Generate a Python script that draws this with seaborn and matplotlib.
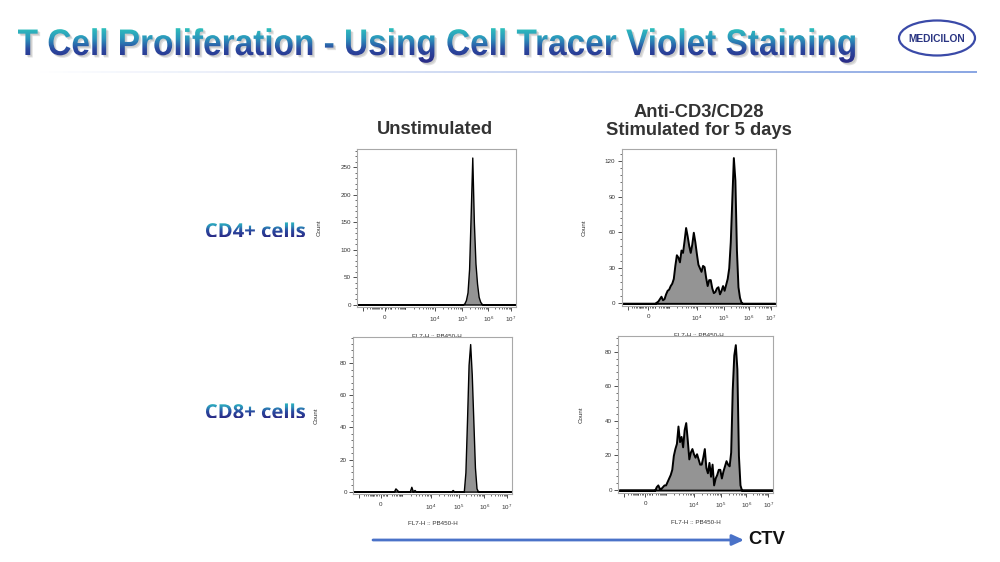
import numpy as np
import pandas as pd
import matplotlib
matplotlib.use("Agg")
import matplotlib.pyplot as plt
import seaborn as sns
from matplotlib.textpath import TextPath
from matplotlib.patches import PathPatch, Ellipse, FancyArrowPatch
from matplotlib.font_manager import FontProperties
from matplotlib.transforms import Affine2D
from matplotlib.colors import LinearSegmentedColormap
from matplotlib.collections import LineCollection
from matplotlib.ticker import AutoMinorLocator, FixedLocator

# ---------------- data (CTV channel histograms, 100 display channels) ----------------
title = "T Cell Proliferation - Using Cell Tracer Violet Staining"
col_titles = ["Unstimulated", "Anti-CD3/CD28\nStimulated for 5 days"]
row_labels = ["CD4+ cells", "CD8+ cells"]
x_label = "FL7-H :: PB450-H"
y_label = "Count"
x_tick_labels = ["", "0", "$10^{4}$", "$10^{5}$", "$10^{6}$", "$10^{7}$"]
axis_label = "CTV"
logo_text = "MEDICILON"

# counts per channel, listed from a start channel
cd4_unstim_start = 66
cd4_unstim_counts = [0, 2, 8, 22, 65, 165, 268, 150, 75, 38, 14, 5, 1, 0]

cd8_unstim_start = 25
cd8_unstim_counts = [0, 2, 1, 0, 0, 0, 0, 0, 0, 0, 0, 3, 0, 1, 0, 0, 0, 0, 0, 0,
                     0, 0, 0, 0, 0, 0, 0, 0, 0, 0, 0, 0, 0, 0, 0, 0, 0, 1, 0, 0,
                     0, 0, 0, 0, 0, 12, 44, 79, 92, 73, 44, 15, 2, 0]

cd4_stim_start = 21
cd4_stim_counts = [0, 1, 2, 4, 6, 3, 4, 8, 11, 12, 15, 17, 21, 32, 41, 39, 35, 45, 43,
                   53, 64, 57, 49, 43, 50, 60, 52, 42, 33, 30, 27, 32, 31, 22, 15, 20,
                   20, 13, 9, 10, 13, 14, 8, 11, 15, 11, 16, 21, 30, 52, 88, 123, 104,
                   45, 14, 5, 1, 0]

cd8_stim_start = 23
cd8_stim_counts = [0, 2, 3, 1, 1, 2, 3, 3, 5, 7, 9, 12, 20, 24, 27, 37, 28, 31, 25, 35,
                   39, 29, 18, 22, 24, 21, 19, 21, 18, 15, 15, 19, 24, 13, 10, 16, 8,
                   15, 3, 7, 9, 12, 12, 7, 11, 14, 17, 15, 14, 22, 58, 78, 84, 70, 20,
                   3, 0]

panel_data = {
    (0, 0): (cd4_unstim_start, cd4_unstim_counts),
    (0, 1): (cd4_stim_start, cd4_stim_counts),
    (1, 0): (cd8_unstim_start, cd8_unstim_counts),
    (1, 1): (cd8_stim_start, cd8_stim_counts),
}
y_ticks = {
    (0, 0): [0, 50, 100, 150, 200, 250],
    (0, 1): [0, 30, 60, 90, 120],
    (1, 0): [0, 20, 40, 60, 80],
    (1, 1): [0, 20, 40, 60, 80],
}

# ---------------- layout / style ----------------
W, H = 1000, 562
sns.set_style("ticks")
plt.rcParams["font.family"] = ["Liberation Sans", "DejaVu Sans"]
plt.rcParams["mathtext.fontset"] = "custom"
plt.rcParams["mathtext.rm"] = "Liberation Sans"
plt.rcParams["mathtext.it"] = "Liberation Sans"

fig = plt.figure(figsize=(10, 5.62), dpi=100)
fig.patch.set_facecolor("white")

ov = fig.add_axes([0, 0, 1, 1], zorder=0)
ov.set_xlim(0, W)
ov.set_ylim(H, 0)
ov.axis("off")

# axes boxes in pixels: left, top, right, bottom
boxes = {
    (0, 0): (357, 149.3, 516, 306.7),
    (0, 1): (621.7, 149.3, 775.7, 305.7),
    (1, 0): (353.3, 336.7, 512.3, 494),
    (1, 1): (618.3, 336, 773.3, 492.7),
}
ylims = {(0, 0): (-4, 283), (0, 1): (-2, 130), (1, 0): (-1.5, 96.6), (1, 1): (-1.5, 89)}

x_major = [3.8, 17.3, 48.9, 66.2, 82.5, 96.7]
x_minor = []
for k in range(2, 10):
    x_minor.append(3.8 + (13.0 - 3.8) * np.log10(k))
x_minor += [13.0, 14.0, 15.0, 16.0, 18.5, 19.5, 20.5, 21.5]
dec = [(21.5, 30.5), (30.5, 48.9), (48.9, 66.2), (66.2, 82.5), (82.5, 96.7)]
for a, b in dec:
    for k in range(1, 10):
        x_minor.append(a + (b - a) * np.log10(k))
x_minor.append(30.5)

fill_gray = "#949494"

for key, (l, t, r, b) in boxes.items():
    ax = fig.add_axes([l / W, 1 - b / H, (r - l) / W, (b - t) / H], zorder=2 + key[0])
    start, counts = panel_data[key]
    df = pd.DataFrame({"channel": start + np.arange(len(counts)) + 0.5,
                       "count": np.asarray(counts, dtype=float)})
    lw = 1.0 if key[1] == 0 else 1.4
    sns.histplot(data=df, x="channel", weights="count", binwidth=1, binrange=(0, 100),
                 element="poly", fill=True, color=fill_gray, edgecolor="black",
                 linewidth=lw, alpha=1, ax=ax)
    ax.set_xlim(0, 100)
    ax.set_ylim(*ylims[key])
    ax.set_facecolor("white")
    for s in ax.spines.values():
        s.set_color("#a8a8a8")
        s.set_linewidth(0.8)
    ax.set_xticks(x_major)
    ax.set_xticklabels(x_tick_labels)
    ax.xaxis.set_minor_locator(FixedLocator(x_minor))
    ax.set_yticks(y_ticks[key])
    ax.yaxis.set_minor_locator(AutoMinorLocator(5))
    ax.tick_params(axis="both", which="major", length=3, width=0.6, color="#333333",
                   labelsize=4.5, labelcolor="#333333", pad=1.5, direction="out")
    ax.tick_params(axis="both", which="minor", length=1.6, width=0.5, color="#333333",
                   direction="out")
    ax.tick_params(axis="x", which="major", pad=3)
    wpx, hpx = r - l, b - t
    ax.set_ylabel(y_label, fontsize=4.5, color="#333333")
    ax.yaxis.set_label_coords(-35 / wpx, 0.5)
    ax.set_xlabel(x_label, fontsize=4.5, color="#333333")
    ax.xaxis.set_label_coords(0.5, -27 / hpx)


def gradient_text(s, x, y_base, em_px, fp, colors, width=None, ha="left",
                  shadow=None):
    tp = TextPath((0, 0), s, size=em_px, prop=fp)
    ext = tp.get_extents()
    sx = 1.0 if width is None else width / ext.width
    if ha == "center":
        x0 = x - ext.width * sx / 2 - ext.x0 * sx
    else:
        x0 = x - ext.x0 * sx
    tr = Affine2D().scale(sx, -1).translate(x0, y_base)
    path = tr.transform_path(tp)
    if shadow is not None:
        for dx, dy, a in shadow:
            sp = Affine2D().translate(dx, dy).transform_path(path)
            ov.add_patch(PathPatch(sp, facecolor="#8a8a8a", edgecolor="none", alpha=a))
    patch = PathPatch(path, facecolor="none", edgecolor="none")
    ov.add_patch(patch)
    bb = path.get_extents()
    cmap = LinearSegmentedColormap.from_list("g", colors)
    grad = np.linspace(0, 1, 256).reshape(-1, 1)
    im = ov.imshow(grad, cmap=cmap, extent=(bb.x0, bb.x1, bb.y1, bb.y0),
                   aspect="auto", origin="upper", interpolation="bilinear", zorder=3)
    im.set_clip_path(patch)


grad_cols = [(0.0, "#2ec0bc"), (0.3, "#2b95bc"), (0.6, "#2b4aa0"), (1.0, "#2a2a86")]
title_fp = FontProperties(family="Liberation Sans", weight="bold")
gradient_text(title, 18, 55, 37, title_fp, grad_cols,
              width=837, shadow=[(2.5, 2.5, 0.25), (1.5, 1.5, 0.25)])

row_fp = FontProperties(family=["Open Sans", "Lato", "DejaVu Sans"], weight="bold")
gradient_text(row_labels[0], 206, 237.3, 19.6, row_fp, grad_cols, width=99)
gradient_text(row_labels[1], 206, 418.3, 19.6, row_fp, grad_cols, width=99)

# underline with a fading gradient
xs = np.linspace(30, 977, 200)
segs = [[(xs[i], 72), (xs[i + 1], 72)] for i in range(len(xs) - 1)]
line_cmap = LinearSegmentedColormap.from_list("u", ["#ffffff", "#c5d2f0", "#7f9ee0"])
lc = LineCollection(segs, colors=line_cmap(np.linspace(0, 1, len(segs))), linewidths=1.3)
ov.add_collection(lc)

# logo
ov.add_patch(Ellipse((937, 38), 76, 35, facecolor="white", edgecolor="#3a4aa8", lw=1.6))
ov.text(937, 38.5, logo_text, ha="center", va="center", fontsize=7.4,
        fontweight="bold", color="#2b3683")

# column titles
ov.text(435, 129, col_titles[0], ha="center", va="center", fontsize=13.2,
        fontweight="bold", color="#333333")
ov.text(699, 121.5, col_titles[1], ha="center", va="center", fontsize=13.2,
        fontweight="bold", color="#333333", linespacing=1.15)

# CTV arrow
ov.add_patch(FancyArrowPatch((373, 540), (744, 540), arrowstyle="-|>,head_length=7,head_width=3.2",
                             color="#4a72c8", lw=2.0, mutation_scale=1, shrinkA=0, shrinkB=0))
ov.text(748, 540, axis_label, ha="left", va="center", fontsize=13.2,
        fontweight="bold", color="#111111")

ov.set_xlim(0, W)
ov.set_ylim(H, 0)

fig.savefig("out.png", dpi=100, facecolor="white")
